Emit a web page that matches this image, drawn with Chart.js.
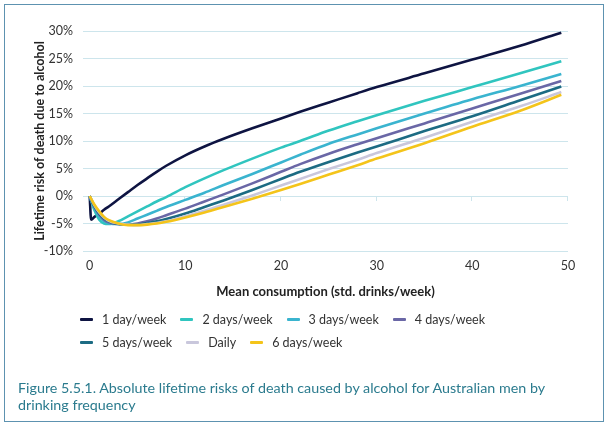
<!DOCTYPE html>
<html>
<head>
<meta charset="utf-8">
<script src="https://cdn.jsdelivr.net/npm/chart.js@4.4.1/dist/chart.umd.min.js"></script>
<style>
  html, body { margin: 0; padding: 0; background: #fff; }
  body { width: 609px; height: 430px; position: relative; overflow: hidden; font-family: Lato, 'Noto Sans', sans-serif; }
  #frame { position: absolute; left: 4px; top: 4px; width: 598px; height: 416px; border: 1.5px solid #5d92b0; }
  #chart { position: absolute; left: 0; top: 0; }
  #legend { position: absolute; left: 80px; top: 308px; width: 430px; display: flex; flex-wrap: wrap; column-gap: 14px; }
  .item { display: flex; align-items: center; height: 23px; font-size: 12.5px; color: #333; }
  .swatch { width: 13px; height: 3px; margin-right: 9px; border-radius: 1px; }
  #caption { position: absolute; left: 18px; top: 379px; font-size: 14.3px; line-height: 17px; color: #2b7b8e; }
</style>
</head>
<body>
<div id="frame"></div>
<canvas id="chart" width="609" height="430"></canvas>
<div id="legend"></div>
<div id="caption">Figure 5.5.1. Absolute lifetime risks of death caused by alcohol for Australian men by<br>drinking frequency</div>
<script>
// mean consumption (std. drinks/week)
const xs = [0, 0.15, 0.5, 1, 1.5, 2, 3, 4, 5, 6, 7, 8, 10, 12, 14, 17, 20, 22, 25, 28, 30, 35, 40, 45, 49.3];

// lifetime risk (%) per drinking frequency
const oneDay    = [0, -4.3, -3.8, -3.2, -2.5, -1.9, -0.6, 0.7, 2.0, 3.2, 4.4, 5.5, 7.4, 9.0, 10.4, 12.3, 14.1, 15.3, 17.0, 18.7, 19.8, 22.3, 24.8, 27.3, 29.7];
const twoDays   = [0, -0.9, -2.6, -4.3, -5.0, -5.1, -4.6, -3.7, -2.8, -1.9, -1.0, -0.2, 1.6, 3.2, 4.7, 6.8, 8.8, 10.0, 11.9, 13.6, 14.7, 17.3, 19.8, 22.3, 24.5];
const threeDays = [0, -0.8, -2.2, -3.7, -4.6, -5.0, -5.1, -4.8, -4.1, -3.4, -2.7, -2.0, -0.7, 0.6, 2.0, 4.0, 6.1, 7.5, 9.5, 11.2, 12.3, 15.0, 17.6, 20.0, 22.2];
const fourDays  = [0, -0.7, -2.0, -3.4, -4.3, -4.8, -5.1, -5.2, -5.0, -4.6, -4.1, -3.5, -2.3, -1.0, 0.3, 2.3, 4.4, 5.8, 7.7, 9.4, 10.5, 13.2, 15.9, 18.6, 20.9];
const fiveDays  = [0, -0.6, -1.9, -3.2, -4.1, -4.6, -5.1, -5.2, -5.2, -4.9, -4.6, -4.2, -3.2, -2.0, -0.8, 1.1, 3.1, 4.4, 6.2, 7.9, 9.0, 11.8, 14.5, 17.4, 19.9];
const daily     = [0, -0.5, -1.7, -3.0, -3.9, -4.5, -5.0, -5.2, -5.3, -5.1, -4.9, -4.6, -3.7, -2.7, -1.6, 0.1, 1.9, 3.1, 4.9, 6.6, 7.8, 10.6, 13.5, 16.3, 18.9];
const sixDays   = [0, -0.5, -1.6, -2.8, -3.8, -4.4, -5.0, -5.3, -5.3, -5.2, -5.0, -4.7, -3.9, -3.0, -2.0, -0.5, 1.1, 2.2, 3.9, 5.6, 6.8, 9.6, 12.6, 15.5, 18.4];

const seriesLabels = ['1 day/week', '2 days/week', '3 days/week', '4 days/week', '5 days/week', 'Daily', '6 days/week'];
const seriesValues = [oneDay, twoDays, threeDays, fourDays, fiveDays, daily, sixDays];
const seriesColors = ['#0e1442', '#30c5bf', '#3ab4cf', '#6a67a6', '#1c6b83', '#c9c7dc', '#f4c41a'];

const xTicks = [0, 10, 20, 30, 40, 50];
const yTicks = [-10, -5, 0, 5, 10, 15, 20, 25, 30];

const gridColor = '#cde5ec';

// small tick marks hanging off the 0% line
const zeroTicks = {
  id: 'zeroTicks',
  beforeDatasetsDraw(chart) {
    const { ctx, scales: { x, y } } = chart;
    const y0 = Math.round(y.getPixelForValue(0));
    ctx.save();
    ctx.strokeStyle = gridColor;
    ctx.lineWidth = 1;
    xTicks.forEach(v => {
      if (v === 0) return;
      const px = Math.round(x.getPixelForValue(v)) - 0.5;
      ctx.beginPath();
      ctx.moveTo(px, y0);
      ctx.lineTo(px, y0 + 5);
      ctx.stroke();
    });
    ctx.restore();
  }
};

Chart.defaults.font.family = "Lato, 'Noto Sans', sans-serif";
Chart.defaults.color = '#333';

const chart = new Chart(document.getElementById('chart'), {
  type: 'line',
  data: {
    datasets: seriesLabels.map((label, i) => ({
      label: label,
      data: xs.map((x, j) => ({ x: x, y: seriesValues[i][j] })),
      borderColor: seriesColors[i],
      backgroundColor: seriesColors[i],
      borderWidth: 2.6,
      pointRadius: 0,
      cubicInterpolationMode: 'monotone',
      order: seriesLabels.length - i
    }))
  },
  options: {
    responsive: false,
    animation: false,
    layout: { padding: { left: 28, right: 41, top: 31, bottom: 124 } },
    plugins: {
      legend: { display: false },
      tooltip: { enabled: false }
    },
    scales: {
      x: {
        type: 'linear',
        min: -0.7,
        max: 50,
        afterBuildTicks: s => { s.ticks = xTicks.map(v => ({ value: v })); },
        afterFit: s => { s.height = 55; },
        grid: { display: false, drawTicks: false },
        border: { display: false },
        ticks: { font: { size: 12.5 }, padding: 7 },
        title: {
          display: true,
          text: 'Mean consumption (std. drinks/week)',
          color: '#222',
          font: { size: 13, weight: 'bold' },
          padding: { top: 6, bottom: 6 }
        }
      },
      y: {
        min: -10,
        max: 30,
        afterBuildTicks: s => { s.ticks = yTicks.map(v => ({ value: v })); },
        afterFit: s => { s.width = 55; },
        grid: { color: gridColor, drawTicks: false },
        border: { display: false },
        ticks: { font: { size: 12.5 }, padding: 10, callback: v => v + '%' },
        title: {
          display: true,
          text: 'Lifetime risk of death due to alcohol',
          color: '#222',
          font: { size: 12.5, weight: 'bold' },
          padding: 4
        }
      }
    }
  },
  plugins: [zeroTicks]
});

// html legend, left aligned and wrapped like the figure
const legendEl = document.getElementById('legend');
chart.data.datasets.forEach(ds => {
  const item = document.createElement('div');
  item.className = 'item';
  const sw = document.createElement('span');
  sw.className = 'swatch';
  sw.style.background = ds.borderColor;
  item.appendChild(sw);
  item.appendChild(document.createTextNode(ds.label));
  legendEl.appendChild(item);
});
</script>
</body>
</html>
